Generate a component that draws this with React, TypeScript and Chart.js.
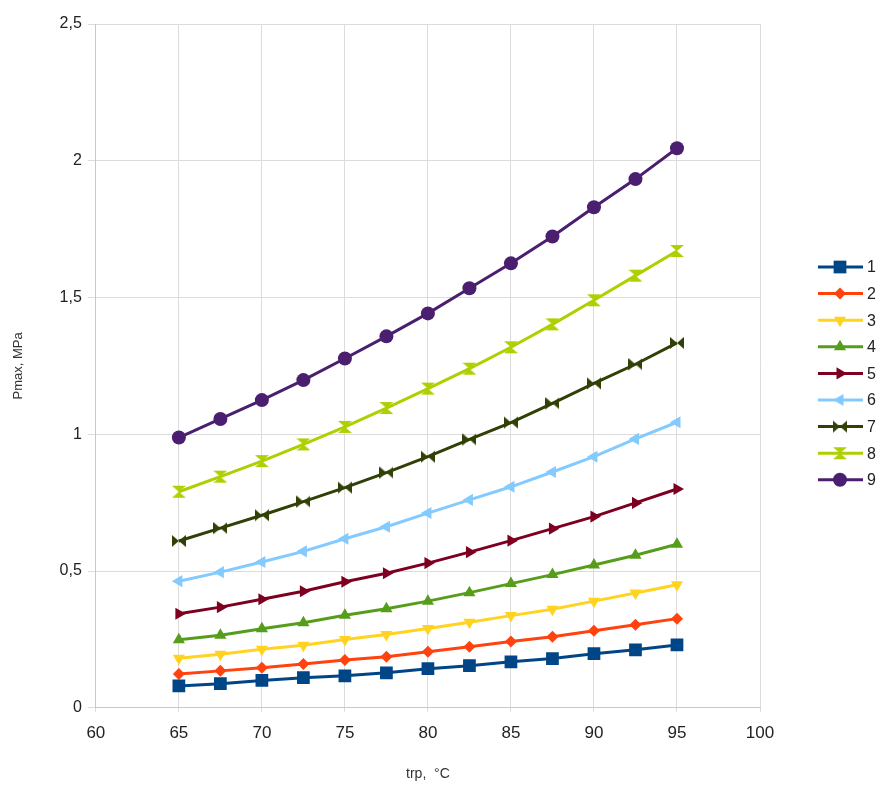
import React, { useEffect, useRef } from 'react';
import { Chart, registerables } from 'chart.js';
import { drawPoint } from 'chart.js/helpers';

Chart.register(...registerables);

const temperatures = [65, 67.5, 70, 72.5, 75, 77.5, 80, 82.5, 85, 87.5, 90, 92.5, 95];
const seriesNames = ['1', '2', '3', '4', '5', '6', '7', '8', '9'];
const s1 = [0.08, 0.088, 0.1, 0.11, 0.117, 0.128, 0.143, 0.154, 0.168, 0.18, 0.198, 0.212, 0.23];
const s2 = [0.124, 0.135, 0.146, 0.16, 0.175, 0.187, 0.205, 0.223, 0.242, 0.26, 0.282, 0.304, 0.326];
const s3 = [0.181, 0.196, 0.214, 0.229, 0.25, 0.268, 0.29, 0.313, 0.337, 0.36, 0.39, 0.42, 0.45];
const s4 = [0.249, 0.265, 0.289, 0.311, 0.338, 0.362, 0.39, 0.421, 0.454, 0.487, 0.522, 0.558, 0.598];
const s5 = [0.344, 0.368, 0.397, 0.426, 0.461, 0.492, 0.529, 0.569, 0.611, 0.655, 0.699, 0.749, 0.8];
const s6 = [0.463, 0.496, 0.533, 0.572, 0.618, 0.662, 0.712, 0.76, 0.808, 0.862, 0.918, 0.983, 1.044];
const s7 = [0.61, 0.657, 0.704, 0.754, 0.805, 0.86, 0.918, 0.981, 1.043, 1.113, 1.186, 1.256, 1.334];
const s8 = [0.79, 0.845, 0.902, 0.963, 1.027, 1.096, 1.167, 1.24, 1.318, 1.402, 1.49, 1.58, 1.67];
const s9 = [0.988, 1.056, 1.125, 1.198, 1.277, 1.358, 1.442, 1.534, 1.625, 1.723, 1.83, 1.933, 2.046];
const seriesValues = [s1, s2, s3, s4, s5, s6, s7, s8, s9];
const colors = ['#004586', '#ff420e', '#ffd320', '#579d1c', '#7e0021', '#83caff', '#314004', '#aecf00', '#4b1f6f'];
const yTicks = [0, 0.5, 1, 1.5, 2, 2.5];

function makeBowtie(color: string, vertical: boolean): HTMLCanvasElement {
  const c = document.createElement('canvas');
  c.width = 14;
  c.height = 14;
  const g = c.getContext('2d')!;
  g.fillStyle = color;
  g.beginPath();
  if (!vertical) {
    g.moveTo(0, 1); g.lineTo(7, 7); g.lineTo(0, 13); g.closePath();
    g.moveTo(14, 1); g.lineTo(7, 7); g.lineTo(14, 13); g.closePath();
  } else {
    g.moveTo(0, 1); g.lineTo(14, 1); g.lineTo(7, 7); g.closePath();
    g.moveTo(0, 13); g.lineTo(14, 13); g.lineTo(7, 7); g.closePath();
  }
  g.fill();
  return c;
}

export default function App() {
  const ref = useRef<HTMLCanvasElement | null>(null);
  useEffect(() => {
    document.body.style.margin = '0';
    const bow = makeBowtie(colors[6], false);
    const hour = makeBowtie(colors[7], true);
    const styles: any[] = ['rect', 'rectRot', 'triangle', 'triangle', 'triangle', 'triangle', bow, hour, 'circle'];
    const rotations = [0, 0, 180, 0, 90, -90, 0, 0, 0];
    const radii = [9, 6, 7, 7, 7, 7, 7, 7, 7];

    const legendPlugin = {
      id: 'customLegend',
      afterDraw(chart: any) {
        const ctx = chart.ctx as CanvasRenderingContext2D;
        ctx.save();
        seriesNames.forEach((name, i) => {
          const y = 267 + i * 26.6;
          ctx.strokeStyle = colors[i];
          ctx.fillStyle = colors[i];
          ctx.lineWidth = 3;
          ctx.beginPath();
          ctx.moveTo(818, y);
          ctx.lineTo(863, y);
          ctx.stroke();
          const st = styles[i];
          if (st instanceof HTMLCanvasElement) {
            ctx.drawImage(st, 840 - 7, y - 7);
          } else {
            drawPoint(ctx, { pointStyle: st, radius: radii[i], rotation: rotations[i], borderWidth: 0 } as any, 840, y);
          }
          ctx.fillStyle = '#222';
          ctx.font = '16px "Liberation Sans", Arial, sans-serif';
          ctx.textBaseline = 'middle';
          ctx.textAlign = 'left';
          ctx.fillText(name, 867, y + 1);
        });
        ctx.restore();
      },
    };

    const chart = new Chart(ref.current!, {
      type: 'line',
      data: {
        datasets: seriesValues.map((vals, i) => ({
          label: seriesNames[i],
          data: vals.map((v, j) => ({ x: temperatures[j], y: v })),
          borderColor: colors[i],
          backgroundColor: colors[i],
          borderWidth: 3,
          pointStyle: styles[i],
          pointRotation: rotations[i],
          pointRadius: radii[i],
          pointBorderWidth: 0,
          pointHoverRadius: radii[i],
          tension: 0,
        })),
      },
      options: {
        animation: false,
        responsive: false,
        maintainAspectRatio: false,
        layout: { padding: { left: 9, right: 121, top: 24, bottom: 0 } },
        plugins: {
          legend: { display: false },
          tooltip: { enabled: false },
        },
        scales: {
          x: {
            type: 'linear',
            min: 60,
            max: 100,
            ticks: {
              stepSize: 5,
              color: '#222',
              font: { family: '"Liberation Sans", Arial, sans-serif', size: 17 },
              padding: 11,
            },
            grid: { color: '#dcdcdc', lineWidth: 1, tickLength: 4 },
            border: { color: '#c8c8c8', width: 1 },
            title: {
              display: true,
              text: 'trp,  °C',
              color: '#333',
              font: { family: '"Liberation Sans", Arial, sans-serif', size: 14 },
              padding: { top: 12, bottom: 2 },
            },
          },
          y: {
            type: 'linear',
            min: 0,
            max: 2.5,
            afterBuildTicks: (axis: any) => {
              axis.ticks = yTicks.map((v) => ({ value: v }));
            },
            ticks: {
              color: '#222',
              font: { family: '"Liberation Sans", Arial, sans-serif', size: 16 },
              padding: 6,
              callback: (v: any) => String(v).replace('.', ','),
            },
            grid: { color: '#dcdcdc', lineWidth: 1, tickLength: 8 },
            border: { color: '#c8c8c8', width: 1 },
            title: {
              display: true,
              text: 'Pmax, MPa',
              color: '#333',
              font: { family: '"Liberation Sans", Arial, sans-serif', size: 13 },
              padding: { top: 2, bottom: 27 },
            },
          },
        },
      },
      plugins: [legendPlugin],
    });
    return () => chart.destroy();
  }, []);
  return <canvas ref={ref} width={881} height={785} style={{ display: 'block' }} />;
}
